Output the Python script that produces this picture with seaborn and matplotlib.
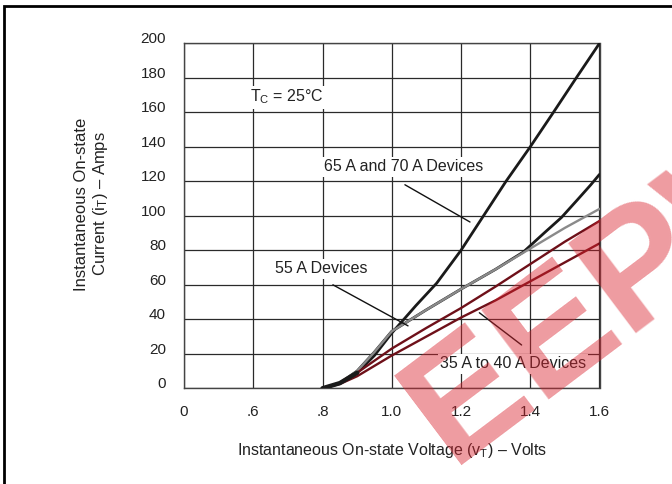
import numpy as np
import matplotlib
matplotlib.use('Agg')
import matplotlib.pyplot as plt
from matplotlib.patches import Rectangle
from matplotlib.transforms import ScaledTranslation
import seaborn as sns

sns.set_style('white')
plt.rcParams['font.family'] = ['Liberation Sans', 'DejaVu Sans']
plt.rcParams['mathtext.fontset'] = 'custom'
plt.rcParams['mathtext.rm'] = 'Liberation Sans'
plt.rcParams['mathtext.it'] = 'Liberation Sans'

# on-state curves (volts, amps)
volts_70 = [0.80, 0.85, 0.90, 0.95, 1.00, 1.07, 1.13, 1.20, 1.265, 1.33, 1.40, 1.467, 1.533, 1.60]
amps_70 = [0, 3, 9, 19, 32, 48, 61, 80, 100, 120, 140, 160, 180, 200]

volts_65 = [0.80, 0.85, 0.90, 0.95, 1.00, 1.10, 1.20, 1.30, 1.38, 1.44, 1.49, 1.535, 1.575, 1.60]
amps_65 = [0, 3, 10, 21, 33, 45.5, 57.5, 69, 79, 90, 99, 109, 118, 124]

volts_55 = [0.80, 0.85, 0.90, 0.95, 1.00, 1.10, 1.20, 1.30, 1.40, 1.50, 1.60]
amps_55 = [0, 3, 10, 21, 33, 45.5, 57.5, 69, 81, 93, 104]

volts_40 = [0.80, 0.85, 0.90, 0.95, 1.00, 1.10, 1.20, 1.30, 1.40, 1.50, 1.60]
amps_40 = [0, 3, 9, 16, 23, 35, 46.5, 59, 72, 85, 97]

volts_35 = [0.80, 0.85, 0.90, 0.95, 1.00, 1.10, 1.20, 1.30, 1.40, 1.50, 1.60]
amps_35 = [0, 2.5, 7, 13, 19, 30, 41, 51, 62, 73, 84]

x_ticks = [0.4, 0.6, 0.8, 1.0, 1.2, 1.4, 1.6]
x_ticklabels = ['0', '.6', '.8', '1.0', '1.2', '1.4', '1.6']
y_ticks = list(range(0, 201, 20))

fig = plt.figure(figsize=(6.72, 4.84), dpi=100)
ax = fig.add_axes([184/672, 1-388.3/484, 415.5/672, 345/484])

black = '#1a1a1a'
grey = '#8a8a8a'
maroon = '#6e1019'

sns.lineplot(x=volts_70, y=amps_70, ax=ax, color=black, lw=2.0, sort=False, estimator=None, zorder=3)
sns.lineplot(x=volts_65, y=amps_65, ax=ax, color=black, lw=2.0, sort=False, estimator=None, zorder=3)
sns.lineplot(x=volts_55, y=amps_55, ax=ax, color=grey, lw=1.7, sort=False, estimator=None, zorder=4)
sns.lineplot(x=volts_40, y=amps_40, ax=ax, color=maroon, lw=1.7, sort=False, estimator=None, zorder=5)
sns.lineplot(x=volts_35, y=amps_35, ax=ax, color=maroon, lw=1.7, sort=False, estimator=None, zorder=5)
# thick black bundle where all curves start together
sns.lineplot(x=volts_70[:3], y=amps_70[:3], ax=ax, color=black, lw=3.2, sort=False, estimator=None, zorder=6)

ax.set_xlim(0.4, 1.6)
ax.set_ylim(0, 200)
ax.set_xticks(x_ticks)
ax.set_xticklabels(x_ticklabels)
ax.set_yticks(y_ticks)
ax.tick_params(length=0, labelsize=11, colors='#222')
ax.tick_params(axis='x', pad=12)
ax.tick_params(axis='y', pad=13)
for lbl in ax.get_yticklabels():
    lbl.set_transform(lbl.get_transform() + ScaledTranslation(0, 4/72, fig.dpi_scale_trans))
ax.grid(True, color='#2a2a2a', lw=0.9)
for sp in ax.spines.values():
    sp.set_color('#444')
    sp.set_linewidth(1.0)
ax.set_xlabel('')
ax.set_ylabel('')

box = dict(facecolor='white', edgecolor='none', pad=1.5)
ax.text(0.591, 168.8, r'T$_\mathrm{C}$ = 25°C', fontsize=11.5, ha='left', va='center',
        color='#222', bbox=box, zorder=7)
ax.text(1.264, 128.3, '65 A and 70 A Devices', fontsize=11.5, ha='right', va='center',
        color='#222', bbox=box, zorder=7)
ax.text(0.663, 69.2, '55 A Devices', fontsize=11.5, ha='left', va='center',
        color='#222', bbox=box, zorder=7)
ax.text(1.139, 14.1, '35 A to 40 A Devices', fontsize=11.5, ha='left', va='center',
        color='#222', bbox=box, zorder=7)

lead = dict(arrowstyle='-', lw=1.0, color='#111', shrinkA=0, shrinkB=0)
ax.annotate('', xy=(1.226, 96.4), xytext=(1.038, 118), arrowprops=lead, zorder=8)
ax.annotate('', xy=(1.047, 36.2), xytext=(0.830, 60), arrowprops=lead, zorder=8)
ax.annotate('', xy=(1.375, 25.1), xytext=(1.253, 43.8), arrowprops=lead, zorder=8)

fig.text(392/672, 1-450/484, r'Instantaneous On-state Voltage (v$_\mathrm{T}$) – Volts',
         fontsize=11.5, ha='center', va='center', color='#222')
fig.text(92/672, 1-204/484, 'Instantaneous On-state\n' + r'Current (i$_\mathrm{T}$) – Amps',
         fontsize=12, ha='center', va='center', rotation=90, multialignment='center', color='#222')

# frame around the figure
fig.patches.append(Rectangle((4/672, -0.1), 1.2, 1.1 - 6/484, transform=fig.transFigure,
                             fill=False, lw=2.0, ec='black', clip_on=False))

# watermark
fig.text(0.92, 0.41, 'EEPW', fontsize=118, fontweight='bold', color='#d9232e', alpha=0.45,
         rotation=37, ha='center', va='center', zorder=20)

fig.savefig('out.png', dpi=100)
